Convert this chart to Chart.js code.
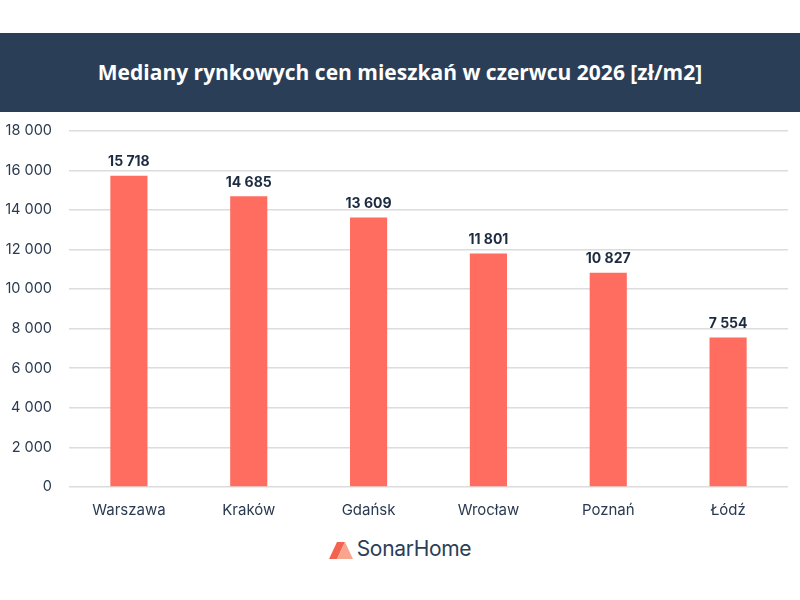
<!DOCTYPE html>
<html lang="pl">
<head>
  <meta charset="UTF-8">
  <title>Mediany rynkowych cen mieszkań</title>
  <script src="https://cdn.jsdelivr.net/npm/chart.js"></script>
  <style>
    body {
      margin: 0;
      width: 800px;
      height: 600px;
      background: #fff;
      font-family: 'Inter', 'Noto Sans', sans-serif;
      position: relative;
      overflow: hidden;
    }
    .header {
      position: absolute;
      top: 33px; left: 0;
      width: 800px; height: 79px;
      background: #2a3e57;
      color: #fff;
      font-family: 'Open Sans', sans-serif;
      font-weight: 700;
      font-size: 21px;
      line-height: 79px;
      text-align: center;
      z-index: 2;
    }
    .chart-box {
      position: absolute;
      top: 105px; left: 0;
      width: 800px; height: 420px;
    }
    .logo {
      position: absolute;
      top: 536px; left: 0;
      width: 800px;
      text-align: center;
      font-size: 21px;
      color: #2a3e57;
      letter-spacing: -0.3px;
    }
    .logo svg { vertical-align: -3px; margin-right: 4px; }
  </style>
</head>
<body>

<div class="header">Mediany rynkowych cen mieszkań w czerwcu 2026 [zł/m2]</div>

<div class="chart-box">
  <canvas id="priceChart"></canvas>
</div>

<div class="logo">
  <svg width="24" height="18" viewBox="0 0 24 18">
    <polygon points="0,18 8,1 16,1 8,18" fill="#f26450"/>
    <polygon points="8,18 16,1 24,18" fill="#f9a48f"/>
  </svg>SonarHome
</div>

<script>
const cities = ['Warszawa', 'Kraków', 'Gdańsk', 'Wrocław', 'Poznań', 'Łódź'];
const prices = [15718, 14685, 13609, 11801, 10827, 7554];
const yMax = 18000;
const yStep = 2000;

function fmt(v) {
  return String(v).replace(/\B(?=(\d{3})+(?!\d))/g, ' ');
}

const valueLabels = {
  id: 'valueLabels',
  afterDatasetsDraw(chart) {
    const ctx = chart.ctx;
    const meta = chart.getDatasetMeta(0);
    ctx.save();
    ctx.font = "bold 14px 'Inter', sans-serif";
    ctx.fillStyle = '#1c2b40';
    ctx.textAlign = 'center';
    ctx.textBaseline = 'bottom';
    meta.data.forEach((bar, i) => {
      ctx.fillText(fmt(prices[i]), bar.x, bar.y - 7);
    });
    ctx.restore();
  }
};

const ctx = document.getElementById('priceChart').getContext('2d');
new Chart(ctx, {
  type: 'bar',
  data: {
    labels: cities,
    datasets: [{
      data: prices,
      backgroundColor: '#ff6d60',
      barPercentage: 0.31,
      categoryPercentage: 1
    }]
  },
  options: {
    responsive: true,
    maintainAspectRatio: false,
    animation: false,
    layout: { padding: { top: 0, right: 12, left: 0, bottom: 0 } },
    plugins: {
      legend: { display: false },
      tooltip: { enabled: false }
    },
    scales: {
      x: {
        grid: { display: false },
        border: { display: false },
        ticks: { color: '#2a3a50', font: { size: 15, family: 'Inter' }, padding: 6 }
      },
      y: {
        min: 0,
        max: yMax,
        grid: { color: '#dcdcdc', lineWidth: 1.5, drawTicks: false },
        border: { display: false },
        afterFit(scale) { scale.width = 69; },
        ticks: {
          stepSize: yStep,
          color: '#2a3a50',
          font: { size: 14.5, family: 'Inter' },
          padding: 17,
          callback: v => fmt(v)
        }
      }
    }
  },
  plugins: [valueLabels]
});
</script>

</body>
</html>
